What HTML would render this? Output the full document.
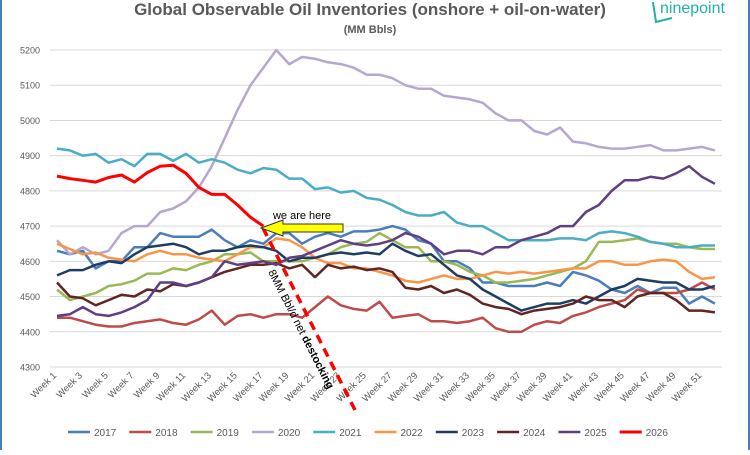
<!DOCTYPE html>
<html><head><meta charset="utf-8">
<style>
html,body{margin:0;padding:0;background:#fff;}
body{width:750px;height:450px;overflow:hidden;font-family:"Liberation Sans",sans-serif;}
</style></head>
<body>
<svg id="c" width="750" height="450" xmlns="http://www.w3.org/2000/svg" font-family="Liberation Sans, sans-serif">
<rect x="0" y="0" width="750" height="450" fill="#fff"/>
<line x1="1" y1="0" x2="1" y2="450" stroke="#4a7ebb" stroke-width="2"/>
<line x1="749" y1="0" x2="749" y2="450" stroke="#4a7ebb" stroke-width="2"/>
<text x="370" y="15" text-anchor="middle" font-size="17" font-weight="bold" fill="#595959">Global Observable Oil Inventories (onshore + oil-on-water)</text>
<text x="370" y="33" text-anchor="middle" font-size="11" font-weight="bold" fill="#595959">(MM Bbls)</text>
<text x="660" y="13" font-size="16" fill="#20b2aa">ninepoint</text>
<path d="M653 2 L656 22 L672 18" fill="none" stroke="#20b2aa" stroke-width="2"/>
<g id="grid"></g>
<g id="series"></g>
<g id="legend"></g>
</svg>
<script>
var NS="http://www.w3.org/2000/svg";
function el(t,a,p,txt){var e=document.createElementNS(NS,t);for(var k in a)e.setAttribute(k,a[k]);if(txt!==undefined)e.textContent=txt;(p||document.getElementById('c')).appendChild(e);return e;}
function X(i){return 57+(i-1)*12.9;}
function Y(v){return 50+(5200-v)*0.3522;}
var g=document.getElementById('grid');
for(var v=4300;v<=5200;v+=100){
 el('line',{x1:50,x2:722,y1:Y(v),y2:Y(v),stroke:'#d9d9d9','stroke-width':1},g);
 el('text',{x:40,y:Y(v)+3.5,'text-anchor':'end','font-size':9,fill:'#595959'},g,v);
}
for(var w=1;w<=52;w+=2){
 var x=X(w),y=376;
 el('text',{x:x,y:y,'text-anchor':'end','font-size':9.5,fill:'#595959',transform:'rotate(-45 '+x+' '+y+')'},g,'Week '+w);
}
var D={
'2020':['#b7a7d0',[4660,4620,4640,4620,4630,4680,4700,4700,4740,4750,4770,4810,4870,4950,5030,5100,5150,5200,5160,5180,5175,5165,5160,5150,5130,5130,5120,5100,5090,5090,5070,5065,5060,5050,5020,5000,5000,4970,4960,4980,4940,4935,4925,4920,4920,4925,4930,4915,4915,4920,4925,4915]],
'2021':['#4bacc6',[4920,4915,4900,4905,4880,4890,4870,4905,4905,4885,4905,4880,4890,4880,4860,4850,4865,4860,4835,4835,4805,4810,4795,4800,4780,4775,4760,4740,4730,4730,4740,4710,4700,4700,4680,4660,4660,4660,4660,4665,4665,4660,4680,4685,4680,4670,4655,4650,4640,4640,4645,4645]],
'2018':['#be4b48',[4440,4440,4430,4420,4415,4415,4425,4430,4435,4425,4420,4435,4460,4420,4445,4450,4440,4450,4450,4440,4470,4500,4475,4465,4460,4485,4440,4445,4450,4430,4430,4425,4430,4440,4410,4400,4400,4420,4430,4425,4445,4455,4470,4480,4490,4520,4510,4510,4510,4520,4540,4520]],
'2019':['#98b954',[4520,4490,4500,4510,4530,4535,4545,4565,4565,4580,4575,4590,4600,4620,4620,4625,4600,4600,4600,4600,4610,4620,4640,4650,4655,4680,4660,4640,4640,4600,4600,4590,4570,4560,4540,4540,4545,4550,4560,4570,4580,4600,4655,4655,4660,4665,4655,4650,4650,4640,4635,4635]],
'2022':['#f79646',[4650,4635,4620,4625,4610,4605,4600,4620,4630,4620,4620,4610,4605,4600,4620,4640,4640,4665,4660,4640,4610,4595,4595,4580,4580,4570,4560,4545,4540,4550,4560,4550,4550,4560,4570,4565,4570,4565,4570,4575,4580,4580,4600,4600,4590,4590,4600,4605,4600,4570,4550,4555]],
'2017':['#4a7ebb',[4630,4620,4630,4580,4600,4600,4640,4640,4680,4670,4670,4670,4690,4660,4640,4660,4650,4680,4680,4650,4670,4680,4670,4685,4685,4690,4700,4690,4660,4650,4600,4600,4580,4540,4540,4530,4530,4530,4540,4530,4570,4560,4545,4520,4510,4530,4510,4525,4525,4480,4500,4480]],
'2023':['#1f3d63',[4560,4575,4575,4590,4600,4595,4620,4640,4645,4650,4640,4620,4630,4630,4640,4645,4640,4630,4600,4610,4610,4620,4625,4620,4625,4620,4650,4630,4615,4620,4590,4560,4550,4520,4500,4480,4460,4470,4480,4480,4490,4480,4500,4520,4530,4550,4545,4540,4540,4520,4520,4530]],
'2024':['#632523',[4540,4500,4495,4475,4490,4505,4500,4520,4515,4535,4530,4540,4555,4570,4580,4590,4590,4595,4580,4590,4555,4590,4580,4585,4575,4580,4570,4525,4520,4530,4510,4520,4505,4480,4470,4465,4450,4460,4465,4470,4480,4500,4490,4490,4470,4500,4510,4510,4490,4460,4460,4455]],
'2025':['#5f3f82',[4445,4450,4470,4450,4445,4455,4470,4490,4540,4540,4530,4540,4555,4600,4590,4595,4600,4590,4610,4615,4630,4645,4660,4650,4645,4650,4660,4680,4670,4650,4620,4630,4630,4620,4640,4640,4660,4670,4680,4700,4700,4740,4760,4800,4830,4830,4840,4835,4850,4870,4840,4820]],
'2026':['#ff0000',[4842,4835,4830,4825,4838,4845,4825,4852,4870,4873,4850,4810,4790,4790,4760,4725,4700]]
};
var s=document.getElementById('series');
for(var k in D){
 var pts=D[k][1].map(function(v,i){return X(i+1).toFixed(1)+','+Y(v).toFixed(1);}).join(' ');
 el('polyline',{points:pts,fill:'none',stroke:D[k][0],'stroke-width':k=='2026'?3:2.5,'stroke-linejoin':'round'},s);
}
el('line',{x1:263,y1:228,x2:355,y2:410,stroke:'#ff0000','stroke-width':3.5,'stroke-dasharray':'9,6'},s);
el('polygon',{points:'343,224 283,224 283,220 261,228 283,236 283,232 343,232',fill:'#ffff00',stroke:'#333','stroke-width':1},s);
el('text',{x:302,y:219,'text-anchor':'middle','font-size':11,fill:'#000'},s,'we are here');
var t=el('text',{x:268,y:272,'font-size':11,fill:'#000',transform:'rotate(63 268 272)'},s);
var a=document.createElementNS(NS,'tspan');a.textContent='8MM Bbl/d net ';t.appendChild(a);
var b=document.createElementNS(NS,'tspan');b.setAttribute('font-weight','bold');b.textContent='destocking';t.appendChild(b);
var L=document.getElementById('legend');
var years=['2017','2018','2019','2020','2021','2022','2023','2024','2025','2026'];
years.forEach(function(yv,i){var x=68+i*61.3;
 el('line',{x1:x,x2:x+22,y1:432,y2:432,stroke:D[yv][0],'stroke-width':yv=='2026'?3:2.5},L);
 el('text',{x:x+26,y:436,'font-size':10,fill:'#595959'},L,yv);
});
</script>
</body></html>
